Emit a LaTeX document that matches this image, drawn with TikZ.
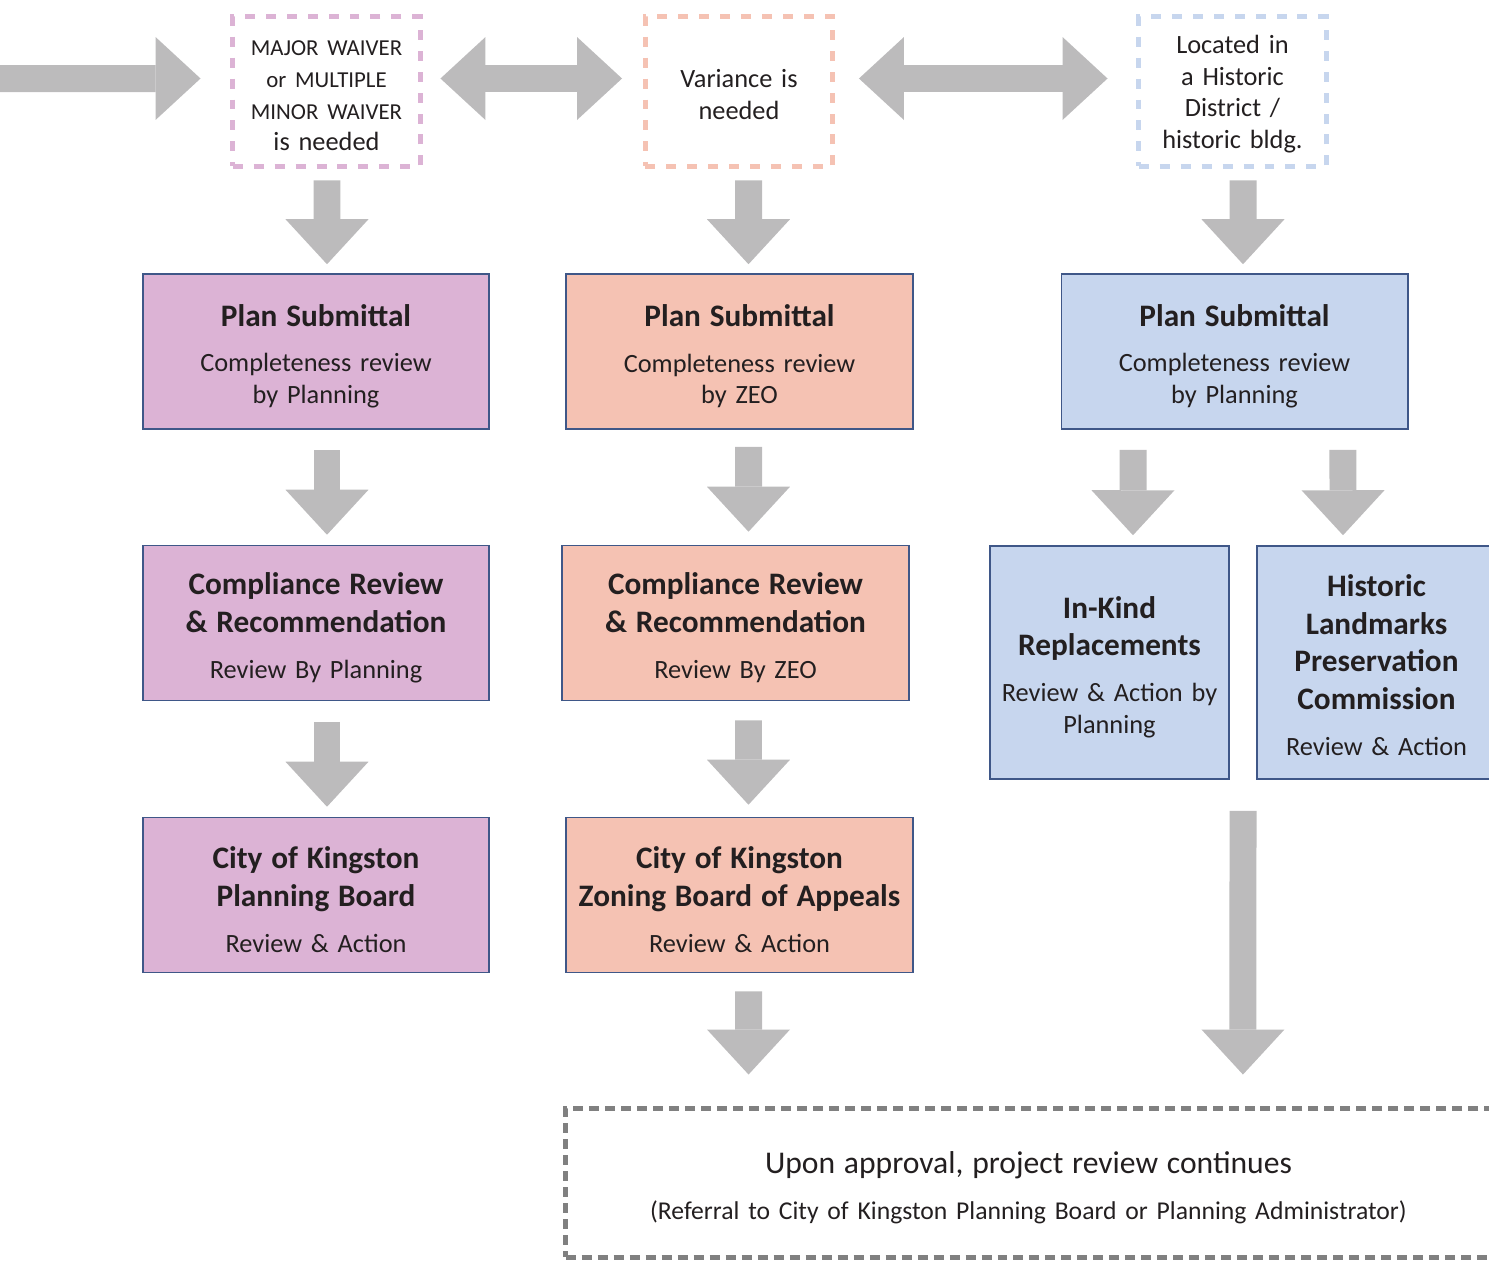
\documentclass[tikz,border=0pt]{standalone}
\usepackage{fontspec}
\setmainfont{Carlito}
\usetikzlibrary{arrows.meta, calc}
\definecolor{waiverpink}{HTML}{DCB3D5}
\definecolor{varsalmon}{HTML}{F5C2B3}
\definecolor{histblue}{HTML}{C7D6EE}
\definecolor{edgenavy}{HTML}{3F5788}
\definecolor{arrowgray}{HTML}{BCBBBC}
\definecolor{dashgray}{HTML}{808080}
\definecolor{inkgray}{HTML}{231F20}
\newcommand{\stagetitle}{\fontsize{17.8pt}{21.5pt}\selectfont\bfseries}
\newcommand{\stagebody}{\fontsize{15pt}{18.1pt}\selectfont}
\newcommand{\stage}[2]{{\stagetitle #1\par}\vskip 8pt{\stagebody #2\par}}

\begin{document}
\begin{tikzpicture}[
    x=0.02cm, y=-0.02cm,
    font=\stagebody, text=inkgray,
    bigarrow/.style={draw=arrowgray, line width=0.54cm,
      -{Triangle[width=1.66cm, length=0.9cm, line width=0pt]}},
    twoway/.style={draw=arrowgray, line width=0.54cm,
      {Triangle[width=1.66cm, length=0.9cm, line width=0pt]}-{Triangle[width=1.66cm, length=0.9cm, line width=0pt]}},
    trigger/.style={line width=0.1cm, dash pattern=on 0.2cm off 0.22cm,
      align=center, inner sep=0pt, text width=3.5cm,
      minimum width=3.76cm, minimum height=3cm,
      execute at begin node={\vskip -4.6pt}},
    stagebox/.style={draw=edgenavy, line width=0.9pt, align=center,
      inner sep=0pt, minimum height=3.1cm,
      execute at begin node={\vskip -3.7pt}},
    widebox/.style={stagebox, minimum width=6.93cm, text width=6.6cm},
    tallbox/.style={stagebox, minimum width=4.78cm, text width=4.5cm,
      minimum height=4.66cm}
  ]
  \useasboundingbox (0,0) rectangle (1489,1262);
  \clip (0,0) rectangle (1489,1262);

  % triggers
  \node[trigger, draw=waiverpink] (top1) at (326.5,91.5)
    {{\fontsize{13pt}{18.1pt}\selectfont MAJOR WAIVER\\ or MULTIPLE\\ MINOR WAIVER\\}is needed};
  \node[trigger, draw=varsalmon] (top2) at (739,91.5) {Variance is\\ needed};
  \node[trigger, draw=histblue] (top3) at (1232.5,91.5)
    {Located in\\ a Historic\\ District /\\ historic bldg.};

  % waiver column
  \node[widebox, fill=waiverpink] (plan1) at (316,351.5)
    {\stage{Plan Submittal}{Completeness review\\ by Planning}};
  \node[widebox, fill=waiverpink] (comp1) at (316,623)
    {\stage{Compliance Review\\ \& Recommendation}{Review By Planning}};
  \node[widebox, fill=waiverpink] (city1) at (316,895)
    {\stage{City of Kingston\\ Planning Board}{Review \& Action}};

  % variance column
  \node[widebox, fill=varsalmon] (plan2) at (739.5,351.5)
    {\stage{Plan Submittal}{Completeness review\\ by ZEO}};
  \node[widebox, fill=varsalmon] (comp2) at (735.5,623)
    {\stage{Compliance Review\\ \& Recommendation}{Review By ZEO}};
  \node[widebox, fill=varsalmon] (city2) at (739.5,895)
    {\stage{City of Kingston\\ Zoning Board of Appeals}{Review \& Action}};

  % historic column
  \node[widebox, fill=histblue] (plan3) at (1234.5,351.5)
    {\stage{Plan Submittal}{Completeness review\\ by Planning}};
  \node[tallbox, fill=histblue] (inkind) at (1109.5,662.5)
    {\stage{In-Kind\\ Replacements}{Review \& Action by\\ Planning}};
  \node[tallbox, fill=histblue, execute at begin node={\vskip -2.5pt}] (hist) at (1376.5,662.5)
    {\stage{Historic\\ Landmarks\\ Preservation\\ Commission}{Review \& Action}};

  \node[draw=dashgray, line width=0.1cm, dash pattern=on 0.2cm off 0.12cm,
    align=center, inner sep=0pt, text width=18cm,
    minimum width=18.52cm, minimum height=2.98cm,
    execute at begin node={\vskip -3.8pt}] (final) at (1028.5,1183)
    {{\fontsize{18pt}{22pt}\selectfont Upon approval, project review continues\par}\vskip 8pt
     {\fontsize{14.6pt}{18pt}\selectfont (Referral to City of Kingston Planning Board or Planning Administrator)\par}};

  \coordinate (entry) at (0,78.5);
  \coordinate (join) at ($(inkind.south east)!0.5!(hist.south west)$);

  % horizontal arrows
  \draw[bigarrow] (entry) -- ([xshift=-0.59cm,yshift=0.26cm]top1.west);
  \draw[twoway] ([xshift=0.35cm,yshift=0.26cm]top1.east) -- ([xshift=-0.41cm,yshift=0.26cm]top2.west);
  \draw[twoway] ([xshift=0.47cm,yshift=0.26cm]top2.east) -- ([xshift=-0.57cm,yshift=0.26cm]top3.west);

  % down arrows
  \draw[bigarrow] ([xshift=0.01cm,yshift=-0.23cm]top1.south) -- ([xshift=0.22cm,yshift=0.18cm]plan1.north);
  \draw[bigarrow] ([xshift=0.19cm,yshift=-0.23cm]top2.south) -- ([xshift=0.18cm,yshift=0.18cm]plan2.north);
  \draw[bigarrow] ([xshift=0.21cm,yshift=-0.23cm]top3.south) -- ([xshift=0.17cm,yshift=0.18cm]plan3.north);
  \foreach \a/\b in {plan1/comp1, comp1/city1} {
    \draw[bigarrow] ([xshift=0.22cm,yshift=-0.41cm]\a.south) -- ([xshift=0.22cm,yshift=0.2cm]\b.north);
  }
  \draw[bigarrow] ([xshift=0.18cm,yshift=-0.34cm]plan2.south) -- ([xshift=0.26cm,yshift=0.26cm]comp2.north);
  \draw[bigarrow] ([xshift=0.26cm,yshift=-0.38cm]comp2.south) -- ([xshift=0.18cm,yshift=0.24cm]city2.north);
  \draw[bigarrow] ([xshift=0.18cm,yshift=-0.36cm]city2.south) -- ([xshift=-5.6cm,yshift=0.63cm]final.north);
  \draw[bigarrow] ([xshift=-2.03cm,yshift=-0.4cm]plan3.south) -- ([xshift=0.47cm,yshift=0.2cm]inkind.north);
  \draw[bigarrow] ([xshift=2.17cm,yshift=-0.4cm]plan3.south) -- ([xshift=-0.67cm,yshift=0.2cm]hist.north);
  \draw[bigarrow] ([yshift=-0.62cm]join) -- ([xshift=4.29cm,yshift=0.63cm]final.north);
\end{tikzpicture}
\end{document}
